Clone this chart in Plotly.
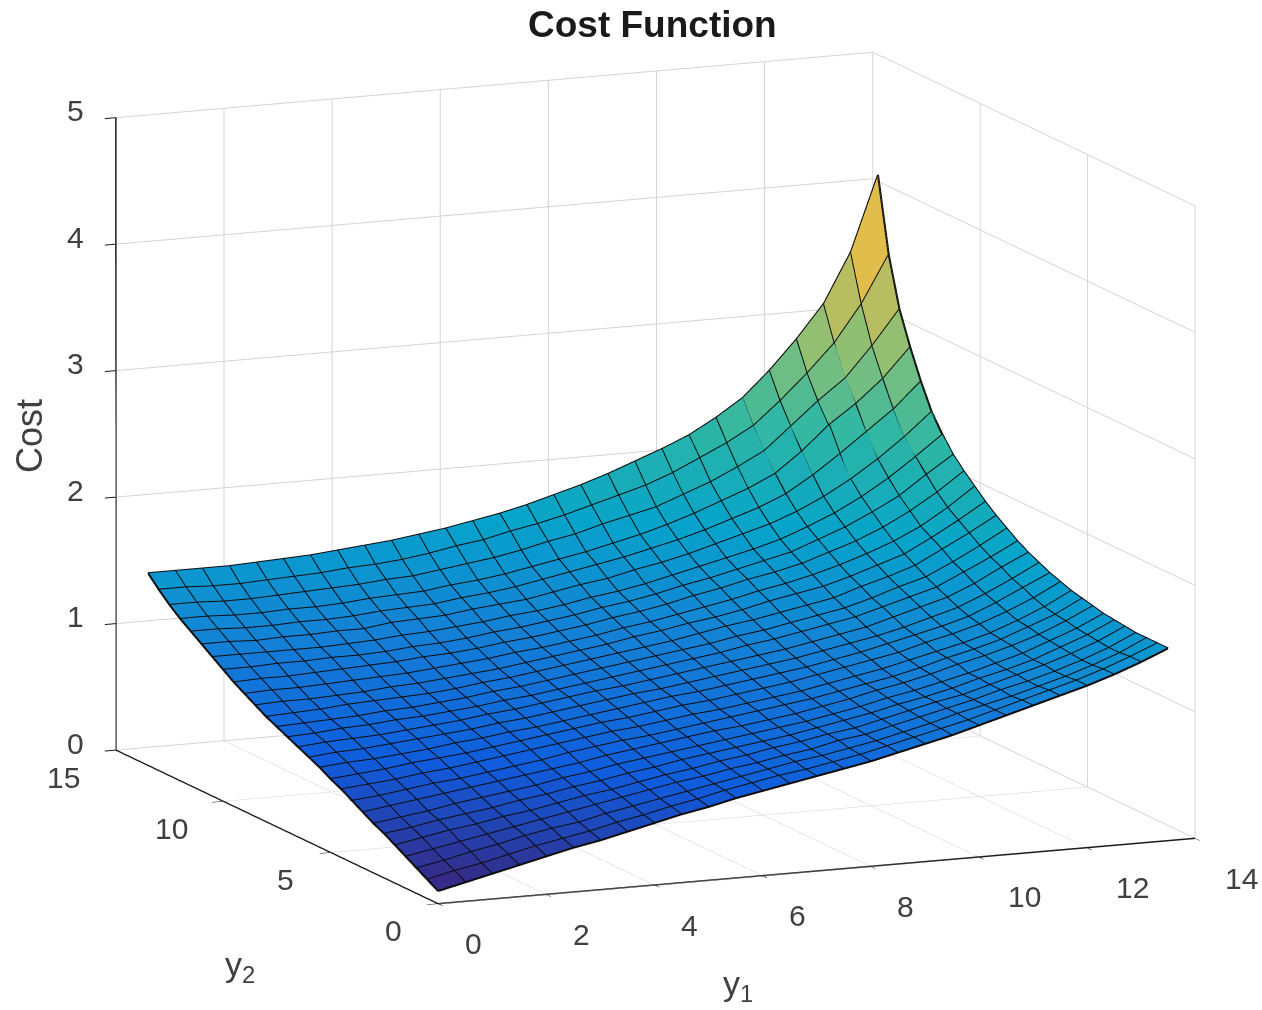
import plotly.graph_objects as go

y1_values = [0.5 * i for i in range(28)]
y2_values = [0.5 * i for i in range(28)]

# the interior cells cannot be read exactly and are hand estimates.
cost_rows = [
[.10,.15,.20,.25,.30,.35,.39,.44,.49,.54,.58,.63,.67,.71,.75,.79,.83,.88,.93,.98,1.04,1.10,1.16,1.22,1.28,1.35,1.43,1.52],
[.15,.20,.24,.29,.34,.38,.42,.47,.51,.56,.60,.65,.69,.73,.76,.80,.84,.89,.94,.99,1.04,1.10,1.16,1.22,1.28,1.35,1.43,1.52],
[.20,.24,.29,.33,.38,.42,.45,.50,.54,.58,.62,.66,.70,.74,.78,.81,.85,.89,.94,.99,1.05,1.10,1.15,1.21,1.27,1.34,1.42,1.52],
[.25,.29,.33,.37,.41,.45,.49,.53,.57,.61,.65,.68,.72,.75,.79,.82,.87,.90,.95,1.00,1.05,1.10,1.16,1.21,1.27,1.34,1.42,1.52],
[.30,.34,.38,.41,.45,.48,.52,.56,.59,.63,.67,.70,.74,.77,.81,.84,.88,.91,.96,1.01,1.06,1.10,1.16,1.22,1.28,1.35,1.43,1.53],
[.35,.38,.42,.45,.48,.52,.55,.59,.62,.66,.69,.73,.76,.79,.82,.85,.89,.93,.97,1.02,1.06,1.11,1.17,1.22,1.28,1.36,1.44,1.54],
[.39,.42,.45,.49,.52,.55,.58,.62,.65,.69,.72,.75,.78,.81,.84,.87,.90,.94,.98,1.03,1.07,1.12,1.17,1.23,1.29,1.37,1.45,1.55],
[.44,.47,.50,.53,.56,.59,.62,.65,.68,.72,.75,.78,.81,.84,.86,.89,.92,.96,1.00,1.05,1.09,1.14,1.20,1.25,1.31,1.38,1.47,1.57],
[.49,.51,.54,.57,.59,.62,.65,.68,.72,.75,.78,.80,.83,.86,.89,.92,.95,.98,1.02,1.06,1.10,1.15,1.21,1.26,1.32,1.40,1.48,1.59],
[.54,.56,.58,.61,.63,.66,.69,.72,.75,.78,.81,.83,.86,.89,.91,.94,.97,1.00,1.04,1.08,1.12,1.17,1.22,1.27,1.33,1.41,1.50,1.61],
[.58,.60,.62,.65,.67,.69,.72,.75,.78,.81,.84,.86,.89,.92,.94,.97,1.00,1.03,1.07,1.11,1.15,1.19,1.25,1.30,1.36,1.44,1.53,1.64],
[.63,.65,.66,.68,.70,.73,.75,.78,.80,.83,.86,.89,.92,.95,.97,1.00,1.03,1.06,1.09,1.13,1.17,1.22,1.27,1.32,1.38,1.47,1.57,1.67],
[.67,.69,.70,.72,.74,.76,.78,.81,.83,.86,.89,.92,.95,.97,1.00,1.03,1.06,1.09,1.12,1.16,1.20,1.24,1.29,1.35,1.41,1.50,1.60,1.71],
[.71,.73,.74,.75,.77,.79,.81,.84,.86,.89,.92,.95,.97,1.00,1.03,1.06,1.09,1.12,1.15,1.19,1.23,1.27,1.33,1.39,1.45,1.54,1.65,1.75],
[.75,.76,.78,.79,.81,.82,.84,.86,.89,.91,.94,.97,1.00,1.03,1.06,1.09,1.12,1.16,1.19,1.23,1.27,1.31,1.37,1.43,1.49,1.59,1.69,1.80],
[.79,.80,.81,.82,.84,.85,.87,.89,.92,.94,.97,1.00,1.03,1.06,1.09,1.12,1.15,1.19,1.22,1.26,1.30,1.34,1.40,1.47,1.53,1.63,1.74,1.86],
[.83,.84,.85,.87,.88,.89,.90,.92,.95,.97,1.00,1.03,1.06,1.09,1.12,1.15,1.19,1.23,1.26,1.30,1.34,1.38,1.45,1.51,1.58,1.69,1.80,1.92],
[.88,.89,.89,.90,.91,.93,.94,.96,.98,1.00,1.03,1.06,1.09,1.12,1.16,1.19,1.23,1.26,1.30,1.35,1.39,1.43,1.49,1.56,1.63,1.74,1.86,1.99],
[.93,.94,.94,.95,.96,.97,.98,1.00,1.02,1.04,1.07,1.09,1.12,1.15,1.19,1.22,1.26,1.30,1.34,1.39,1.43,1.48,1.54,1.61,1.69,1.79,1.92,2.07],
[.98,.99,.99,1.00,1.01,1.02,1.03,1.05,1.06,1.08,1.11,1.13,1.16,1.19,1.23,1.26,1.30,1.35,1.39,1.44,1.48,1.53,1.60,1.67,1.76,1.87,2.00,2.15],
[1.04,1.04,1.05,1.05,1.06,1.06,1.07,1.09,1.10,1.12,1.15,1.17,1.20,1.23,1.27,1.30,1.34,1.39,1.43,1.48,1.53,1.58,1.66,1.74,1.84,1.95,2.10,2.24],
[1.10,1.10,1.10,1.10,1.10,1.11,1.12,1.14,1.15,1.17,1.19,1.22,1.24,1.27,1.31,1.34,1.38,1.43,1.48,1.53,1.58,1.64,1.72,1.81,1.92,2.05,2.20,2.36],
[1.16,1.16,1.15,1.16,1.16,1.17,1.17,1.20,1.21,1.22,1.25,1.27,1.29,1.33,1.37,1.40,1.45,1.49,1.54,1.60,1.66,1.72,1.80,1.90,2.02,2.16,2.32,2.50],
[1.22,1.22,1.21,1.21,1.22,1.22,1.23,1.25,1.26,1.27,1.30,1.32,1.35,1.39,1.43,1.47,1.51,1.56,1.61,1.67,1.74,1.81,1.90,2.03,2.18,2.34,2.50,2.70],
[1.28,1.28,1.27,1.27,1.28,1.28,1.29,1.31,1.32,1.33,1.36,1.38,1.41,1.45,1.49,1.53,1.58,1.63,1.69,1.76,1.84,1.92,2.02,2.18,2.37,2.52,2.70,2.93],
[1.35,1.35,1.34,1.34,1.35,1.36,1.37,1.38,1.40,1.41,1.44,1.47,1.50,1.54,1.59,1.63,1.69,1.74,1.79,1.87,1.95,2.05,2.16,2.34,2.52,2.68,2.92,3.19],
[1.43,1.43,1.42,1.42,1.43,1.44,1.45,1.47,1.48,1.50,1.53,1.57,1.60,1.65,1.69,1.74,1.80,1.86,1.92,2.00,2.10,2.20,2.32,2.50,2.70,2.92,3.21,3.58],
[1.52,1.52,1.52,1.52,1.53,1.54,1.55,1.57,1.59,1.61,1.64,1.67,1.71,1.75,1.80,1.86,1.92,1.99,2.07,2.15,2.24,2.36,2.50,2.70,2.93,3.19,3.58,4.17],
]

parula = ["#352A87", "#0F5CDD", "#1481D6", "#06A4CA", "#2EB7A4", "#87BF77", "#DDBB50", "#FEC832", "#F9FB0E"]
colorscale = [[i / 8, c] for i, c in enumerate(parula)]

x_ticks = [0, 2, 4, 6, 8, 10, 12, 14]
y_ticks = [0, 5, 10, 15]
z_ticks = [0, 1, 2, 3, 4, 5]

FONT = "Liberation Sans, Arial, sans-serif"
INK = "#404040"

def axis(rng, ticks):
    return dict(range=rng, tickvals=ticks, showticklabels=False, title=dict(text=""),
                showgrid=True, gridcolor="#d4d4d4", gridwidth=2, zeroline=False,
                showline=True, linecolor="#1a1a1a", linewidth=3, ticks="outside", ticklen=12,
                tickcolor="#1a1a1a", tickwidth=2, showbackground=False,
                showspikes=False, mirror=False)

def tick(text, x, y, z, dx, dy):
    return dict(text=text, x=x, y=y, z=z, xshift=dx, yshift=dy, showarrow=False,
                xanchor="center", yanchor="middle", font=dict(family=FONT, size=30, color=INK))

tick_notes = (
    [tick(str(v), v, 0, 0, 46 if v >= 10 else 35, -40) for v in x_ticks]
    + [tick(str(v), 0, v, 0, -52 if v >= 10 else -45, -27) for v in y_ticks]
    + [tick(str(v), 0, 15, v, -40, 7) for v in z_ticks]
)

# One vertex per data point; two triangles per mesh cell, and each cell is
# coloured flat by its first corner, the way a MATLAB surf does.
n = len(cost_rows)
vx = [y1_values[c] for r in range(n) for c in range(n)]
vy = [y2_values[r] for r in range(n) for c in range(n)]
vz = [cost_rows[r][c] for r in range(n) for c in range(n)]
ti, tj, tk, cell_value = [], [], [], []
for r in range(n - 1):
    for c in range(n - 1):
        v = r * n + c
        ti += [v, v]
        tj += [v + 1, v + n + 1]
        tk += [v + n + 1, v + n]
        cell_value += [cost_rows[r][c]] * 2

faces = go.Mesh3d(
    x=vx, y=vy, z=vz, i=ti, j=tj, k=tk,
    intensity=cell_value, intensitymode="cell", colorscale=colorscale,
    cmin=0.10, cmax=4.17, showscale=False, flatshading=True,
    lighting=dict(ambient=1, diffuse=0, specular=0, roughness=1, fresnel=0),
    hoverinfo="skip",
)

# Black mesh lines along both grid directions.
lx, ly, lz = [], [], []
for r in range(n):
    lx += y1_values + [None]
    ly += [y2_values[r]] * n + [None]
    lz += cost_rows[r] + [None]
for c in range(n):
    lx += [y1_values[c]] * n + [None]
    ly += y2_values + [None]
    lz += [row[c] for row in cost_rows] + [None]

mesh_lines = go.Scatter3d(x=lx, y=ly, z=lz, mode="lines", line=dict(color="#0c0c0c", width=4),
                          hoverinfo="skip", connectgaps=False)

fig = go.Figure([faces, mesh_lines])

def label(text, x, y, angle=0, size=34, color=INK):
    return dict(text=text, x=x, y=y, xref="paper", yref="paper", xanchor="center", yanchor="middle",
                showarrow=False, textangle=angle, font=dict(family=FONT, size=size, color=color))

W, H = 1262, 1010
fig.update_layout(
    width=W, height=H, margin=dict(l=0, r=0, t=0, b=0), paper_bgcolor="white",
    showlegend=False,
    scene=dict(
        domain=dict(x=[0, 1], y=[0, 1]),
        xaxis=axis([0, 14], x_ticks), yaxis=axis([0, 15], y_ticks), zaxis=axis([0, 5], z_ticks),
        aspectmode="manual", aspectratio=dict(x=1.629, y=1.629, z=1.279),
        camera=dict(projection=dict(type="orthographic"),
                    eye=dict(x=-0.815, y=-1.791, z=0.353),
                    center=dict(x=-0.0488, y=0.009, z=-0.0524), up=dict(x=0, y=0, z=1)),
        annotations=tick_notes,
    ),
    annotations=[
        label("<b>Cost Function</b>", 653 / W, 1 - 24 / H, size=37, color="#1a1a1a"),
        label("Cost", 30 / W, 1 - 436 / H, angle=-90, size=36),
        label("y<sub>1</sub>", 738 / W, 1 - 985 / H),
        label("y<sub>2</sub>", 240 / W, 1 - 966 / H),
    ],
)
fig.write_html("out.html", config={"displayModeBar": False}, post_script="document.body.style.margin='0';")
